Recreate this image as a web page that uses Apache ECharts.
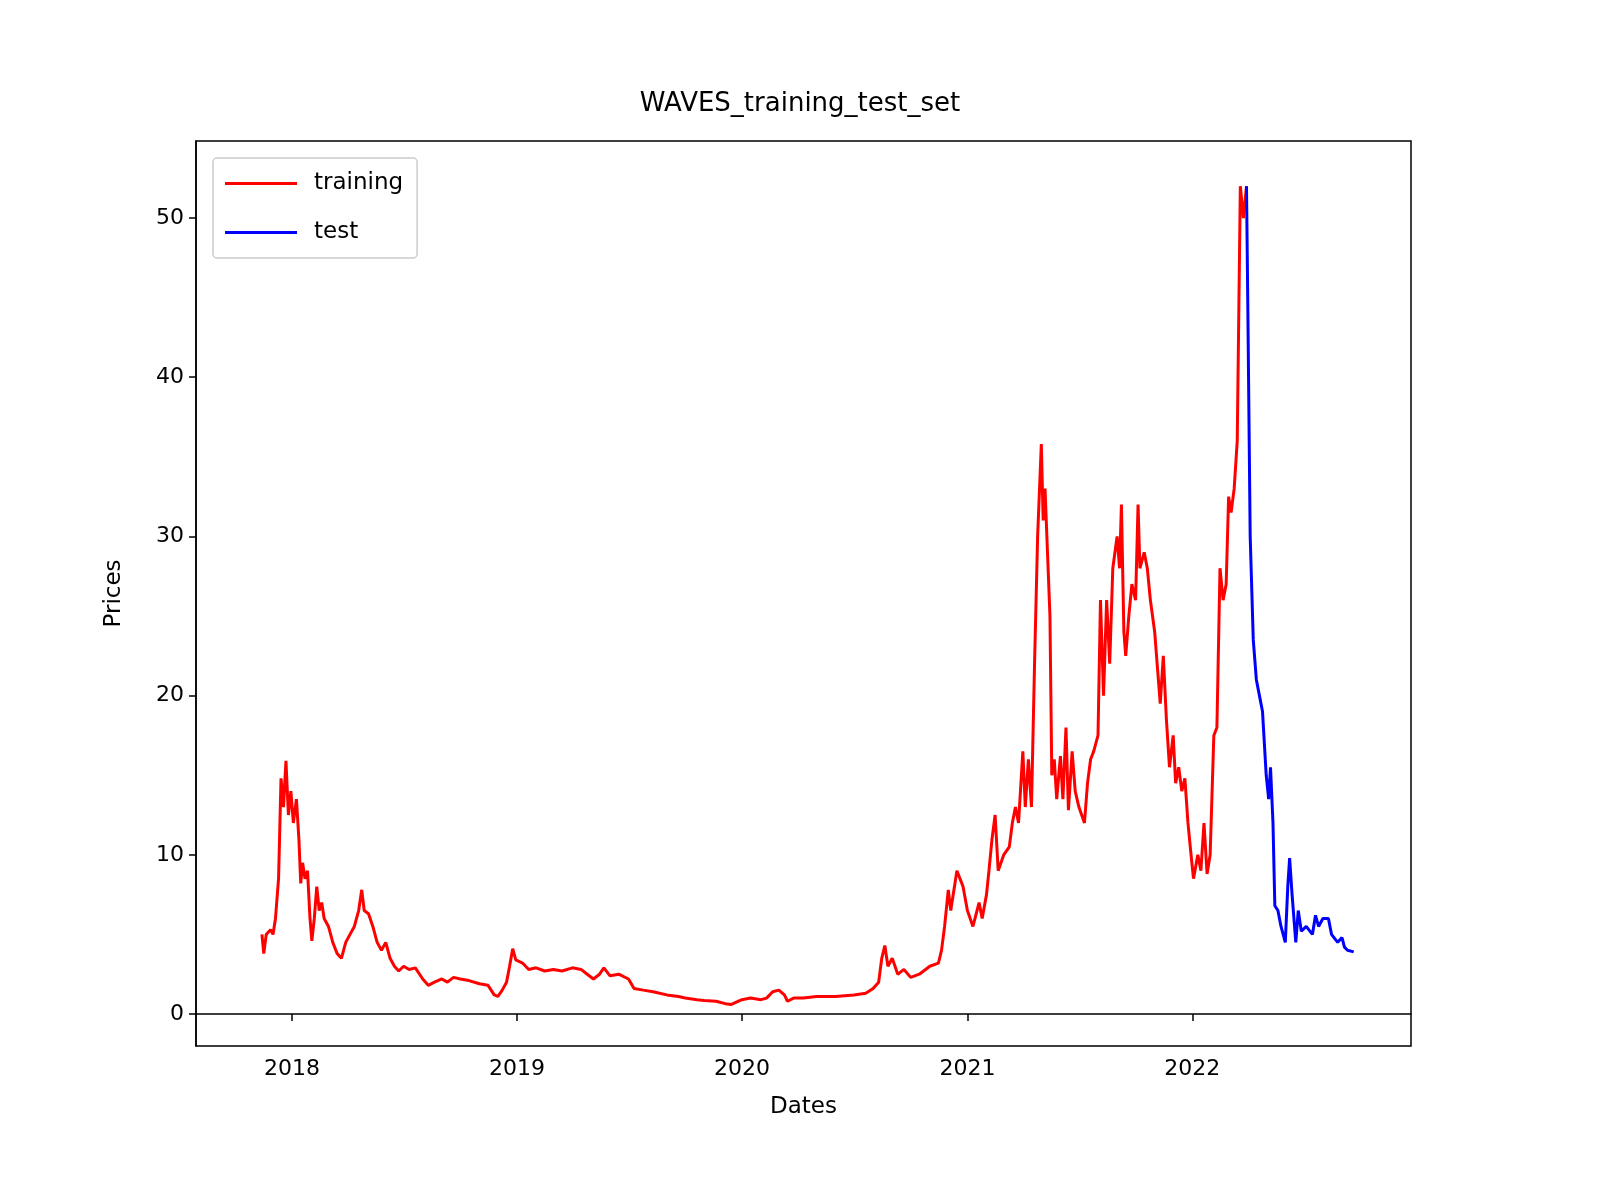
<!DOCTYPE html>
<html><head><meta charset="utf-8">
<script src="https://cdn.jsdelivr.net/npm/echarts@6/dist/echarts.min.js"></script>
<style>body{margin:0}#c{width:1600px;height:1200px;background:#fff}</style>
</head><body><div id="c"></div>
<script>
const trainDates=["2017-11-13","2017-11-16","2017-11-20","2017-11-27","2017-12-01","2017-12-05","2017-12-10","2017-12-14","2017-12-18","2017-12-22","2017-12-26","2017-12-30","2018-01-03","2018-01-08","2018-01-12","2018-01-15","2018-01-18","2018-01-22","2018-01-26","2018-01-30","2018-02-02","2018-02-06","2018-02-10","2018-02-14","2018-02-18","2018-02-22","2018-03-01","2018-03-08","2018-03-15","2018-03-22","2018-03-29","2018-04-05","2018-04-12","2018-04-19","2018-04-24","2018-04-28","2018-05-05","2018-05-12","2018-05-19","2018-05-26","2018-06-02","2018-06-09","2018-06-16","2018-06-23","2018-07-01","2018-07-10","2018-07-20","2018-08-01","2018-08-10","2018-08-20","2018-09-01","2018-09-10","2018-09-20","2018-10-01","2018-10-15","2018-11-01","2018-11-15","2018-11-25","2018-12-01","2018-12-08","2018-12-15","2018-12-20","2018-12-25","2018-12-30","2019-01-10","2019-01-20","2019-02-01","2019-02-15","2019-03-01","2019-03-15","2019-04-01","2019-04-15","2019-04-25","2019-05-05","2019-05-15","2019-05-22","2019-06-01","2019-06-15","2019-07-01","2019-07-10","2019-07-25","2019-08-10","2019-09-01","2019-09-20","2019-10-01","2019-10-20","2019-11-01","2019-11-20","2019-12-05","2019-12-15","2020-01-01","2020-01-15","2020-02-01","2020-02-10","2020-02-20","2020-03-01","2020-03-10","2020-03-15","2020-03-25","2020-04-10","2020-05-01","2020-06-01","2020-07-01","2020-07-20","2020-08-01","2020-08-10","2020-08-15","2020-08-20","2020-08-25","2020-09-01","2020-09-10","2020-09-20","2020-10-01","2020-10-15","2020-11-01","2020-11-15","2020-11-20","2020-11-25","2020-12-01","2020-12-05","2020-12-15","2020-12-25","2021-01-01","2021-01-10","2021-01-20","2021-01-25","2021-02-01","2021-02-05","2021-02-10","2021-02-15","2021-02-20","2021-03-01","2021-03-10","2021-03-15","2021-03-20","2021-03-25","2021-04-01","2021-04-05","2021-04-10","2021-04-15","2021-04-20","2021-04-25","2021-05-01","2021-05-04","2021-05-07","2021-05-10","2021-05-15","2021-05-18","2021-05-22","2021-05-26","2021-06-01","2021-06-05","2021-06-10","2021-06-14","2021-06-20","2021-06-25","2021-07-01","2021-07-10","2021-07-15","2021-07-20","2021-07-25","2021-08-01","2021-08-05","2021-08-10","2021-08-15","2021-08-20","2021-08-25","2021-09-01","2021-09-05","2021-09-08","2021-09-12","2021-09-15","2021-09-20","2021-09-25","2021-10-01","2021-10-05","2021-10-08","2021-10-15","2021-10-20","2021-10-25","2021-11-01","2021-11-05","2021-11-10","2021-11-15","2021-11-20","2021-11-25","2021-12-01","2021-12-05","2021-12-10","2021-12-15","2021-12-20","2021-12-25","2021-12-30","2022-01-03","2022-01-10","2022-01-15","2022-01-20","2022-01-25","2022-01-30","2022-02-05","2022-02-10","2022-02-15","2022-02-20","2022-02-25","2022-03-01","2022-03-05","2022-03-10","2022-03-15","2022-03-20","2022-03-25","2022-03-30"];
const trainValues=[5.0,3.8,5.0,5.3,5.0,6.0,8.5,14.8,13.0,15.9,12.5,14.0,12.0,13.5,11.0,8.2,9.5,8.5,9.0,6.0,4.6,6.0,8.0,6.5,7.0,6.0,5.5,4.5,3.8,3.5,4.5,5.0,5.5,6.5,7.8,6.5,6.3,5.5,4.5,4.0,4.5,3.5,3.0,2.7,3.0,2.8,2.9,2.2,1.8,2.0,2.2,2.0,2.3,2.2,2.1,1.9,1.8,1.2,1.1,1.5,2.0,3.0,4.1,3.4,3.2,2.8,2.9,2.7,2.8,2.7,2.9,2.8,2.5,2.2,2.5,2.9,2.4,2.5,2.2,1.6,1.5,1.4,1.2,1.1,1.0,0.9,0.85,0.8,0.65,0.6,0.9,1.0,0.9,1.0,1.4,1.5,1.2,0.8,1.0,1.0,1.1,1.1,1.2,1.3,1.6,2.0,3.5,4.3,3.0,3.5,2.5,2.8,2.3,2.5,3.0,3.2,4.0,5.5,7.8,6.5,9.0,8.0,6.5,5.5,7.0,6.0,7.5,9.0,11.0,12.5,9.0,10.0,10.5,12.0,13.0,12.0,16.5,13.0,16.0,13.0,22.0,30.0,35.8,31.0,33.0,30.0,25.0,15.0,16.0,13.5,16.2,13.5,18.0,12.8,16.5,14.0,13.0,12.0,14.5,16.0,16.5,17.5,26.0,20.0,26.0,22.0,28.0,30.0,28.0,32.0,24.0,22.5,25.0,27.0,26.0,32.0,28.0,29.0,28.0,26.0,24.0,22.0,19.5,22.5,18.5,15.5,17.5,14.5,15.5,14.0,14.8,12.0,10.0,8.5,10.0,9.0,12.0,8.8,10.0,17.5,18.0,28.0,26.0,27.0,32.5,31.5,33.0,36.0,52.0,50.0,52.0];
const testDates=["2022-03-30","2022-04-01","2022-04-05","2022-04-10","2022-04-15","2022-04-20","2022-04-25","2022-05-01","2022-05-05","2022-05-08","2022-05-12","2022-05-15","2022-05-20","2022-05-25","2022-06-01","2022-06-05","2022-06-08","2022-06-12","2022-06-18","2022-06-22","2022-06-27","2022-07-05","2022-07-15","2022-07-20","2022-07-25","2022-08-01","2022-08-10","2022-08-15","2022-08-25","2022-09-01","2022-09-05","2022-09-10","2022-09-20"];
const testValues=[52,45,30,23.5,21.0,20.0,19.0,15.0,13.5,15.5,12.0,6.8,6.5,5.5,4.5,8.0,9.8,7.5,4.5,6.5,5.2,5.5,5.0,6.2,5.5,6.0,6.0,5.0,4.5,4.8,4.2,4.0,3.9];
const yTicks=[0,10,20,30,40,50];
const yearTicks=["2018-01-01","2019-01-01","2020-01-01","2021-01-01","2022-01-01"];

const font='"DejaVu Sans", sans-serif';
const ts=d=>Date.parse(d+"T00:00:00Z");
const xt=yearTicks.map(ts);
const chart=echarts.init(document.getElementById('c'));
chart.setOption({
  animation:false,
  title:{text:'WAVES_training_test_set',left:'center',top:86,textStyle:{fontFamily:font,fontSize:26,fontWeight:'normal',color:'#000'}},
  legend:{left:213,top:158,orient:'vertical',itemWidth:72,itemHeight:3,itemGap:26,padding:[14,14,14,12],
    borderColor:'#ccc',borderWidth:1.5,borderRadius:4,
    textStyle:{fontFamily:font,fontSize:23,color:'#000',padding:[0,0,0,12]},
    data:[{name:'training',icon:'rect'},{name:'test',icon:'rect'}]},
  grid:{left:196,right:189,top:141,bottom:154,show:true,borderColor:'#000',borderWidth:1.5},
  xAxis:{type:'value',min:ts('2017-07-29'),max:ts('2022-12-22'),
    name:'Dates',nameLocation:'middle',nameGap:50,nameTextStyle:{fontFamily:font,fontSize:23,color:'#000'},
    axisLine:{lineStyle:{color:'#000',width:1.5}},
    axisTick:{customValues:xt,length:7,lineStyle:{color:'#000',width:1.5}},
    axisLabel:{customValues:xt,formatter:v=>String(new Date(v).getUTCFullYear()),fontFamily:font,fontSize:22,color:'#000',margin:12},
    splitLine:{show:false}},
  yAxis:{type:'value',min:-2.01,max:54.84,
    name:'Prices',nameLocation:'middle',nameGap:70,nameTextStyle:{fontFamily:font,fontSize:23,color:'#000'},
    axisLine:{show:true,lineStyle:{color:'#000',width:1.5}},
    axisTick:{show:true,customValues:yTicks,length:7,lineStyle:{color:'#000',width:1.5}},
    axisLabel:{customValues:yTicks,fontFamily:font,fontSize:22,color:'#000',margin:12},
    splitLine:{show:false}},
  series:[
    {name:'training',type:'line',showSymbol:false,color:'#ff0000',lineStyle:{width:3},data:trainDates.map((d,i)=>[ts(d),trainValues[i]])},
    {name:'test',type:'line',showSymbol:false,color:'#0000ff',lineStyle:{width:3},data:testDates.map((d,i)=>[ts(d),testValues[i]])}
  ]
});
</script></body></html>
